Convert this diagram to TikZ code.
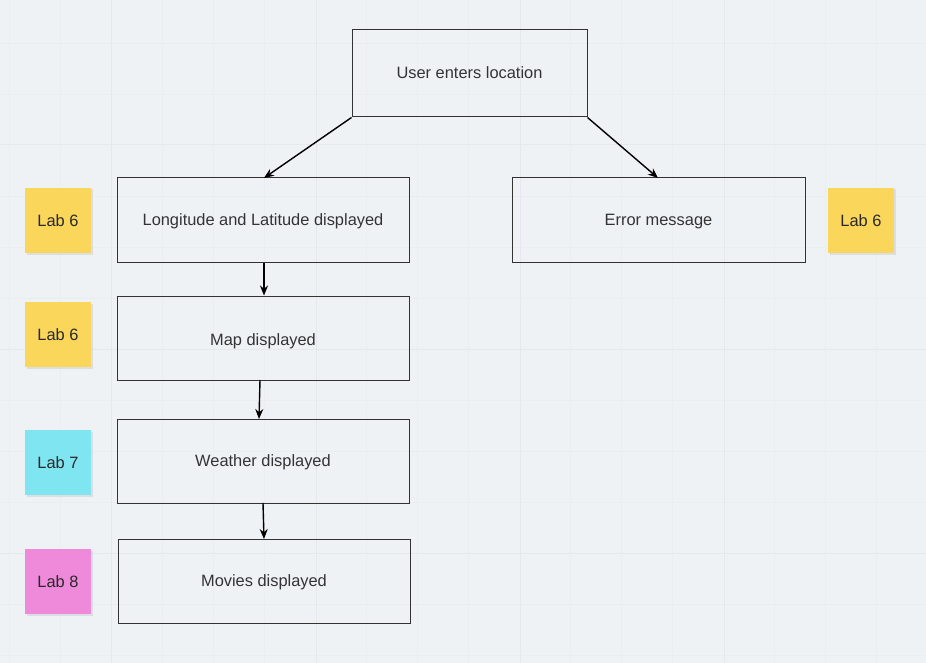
\documentclass[tikz,border=0pt]{standalone}
\usepackage{fontspec}
\setmainfont{Liberation Sans}
\usetikzlibrary{arrows.meta}
\definecolor{canvas}{HTML}{EFF2F5}
\definecolor{gridminor}{HTML}{EBEEF1}
\definecolor{gridmajor}{HTML}{E5E8EC}
\definecolor{boxline}{HTML}{333333}
\definecolor{txt}{HTML}{333333}
\definecolor{noteyellow}{HTML}{FAD75B}
\definecolor{notecyan}{HTML}{7FE6F1}
\definecolor{notepink}{HTML}{EF8ADA}
\tikzset{
  x=1pt, y=-1pt,
  flowbox/.style={draw=boxline, line width=1pt, fill=none, inner sep=0pt,
    font=\fontsize{16.4}{19}\selectfont, text=txt, text height=11pt, text depth=0pt},
  note/.style={fill=#1, minimum width=66pt, minimum height=65pt, inner sep=0pt,
    font=\fontsize{16.4}{19}\selectfont, text=txt!80!black,
    text height=11pt, text depth=0pt,
    preaction={fill=black, opacity=0.08, transform canvas={xshift=1.5pt, yshift=-1.5pt}}},
  flow/.style={draw=black, line width=1.4pt, -{Stealth[length=10pt, width=8pt]}},
}
\begin{document}
\begin{tikzpicture}
  % canvas and grid
  \fill[canvas] (0,0) rectangle (926,663);
  \useasboundingbox (0,0) rectangle (926,663);
  \foreach \gx in {9,60,162,213,264,366,417,468,570,621,672,774,825,876} {
    \draw[gridminor, line width=0.8pt] (\gx,0) -- (\gx,663);
  }
  \foreach \gy in {43,94,196,247,298,400,451,502,604,655} {
    \draw[gridminor, line width=0.8pt] (0,\gy) -- (926,\gy);
  }
  \foreach \gx in {111,316,520,724} {
    \draw[gridmajor, line width=1pt] (\gx,0) -- (\gx,663);
  }
  \foreach \gy in {145,349,553} {
    \draw[gridmajor, line width=1pt] (0,\gy) -- (926,\gy);
  }

  % flow boxes
  \node[flowbox, minimum width=235pt, minimum height=87pt] (user) at (469.5,73.5) {User enters location};
  \node[flowbox, minimum width=292pt, minimum height=84pt] (lonlat) at (263,220) {Longitude and Latitude displayed};
  \node[flowbox, minimum width=293pt, minimum height=84pt] (err) at (658.5,220) {Error message};
  \node[flowbox, minimum width=292pt, minimum height=84pt] (map) at (263,338) {};
  \node[flowbox, draw=none] (maplbl) at (263,339.5) {Map displayed};
  \node[flowbox, minimum width=292pt, minimum height=84pt] (weather) at (263,461) {Weather displayed};
  \node[flowbox, minimum width=292pt, minimum height=84pt] (movies) at (264,581) {Movies displayed};

  % sticky notes
  \node[note=noteyellow] (n1) at (58,220.5) {Lab 6};
  \node[note=noteyellow] (n2) at (58,334.5) {Lab 6};
  \node[note=notecyan] (n3) at (58,462.5) {Lab 7};
  \node[note=notepink] (n4) at (58,581.5) {Lab 8};
  \node[note=noteyellow] (n5) at (861,220.5) {Lab 6};

  % connectors
  \coordinate (lonlatTop) at (264,178);
  \coordinate (errTop) at (658,178);
  \draw[flow] (user.south west) -- (lonlatTop);
  \draw[flow] (user.south east) -- (errTop);
  \draw[flow] (lonlat.south -| lonlatTop) -- (map.north -| lonlatTop);
  \coordinate (mapBot) at (260,380);
  \coordinate (weatherTop) at (259,419);
  \draw[flow] (mapBot) -- (weatherTop);
  \coordinate (weatherBot) at (263,503);
  \coordinate (moviesTop) at (264,539);
  \draw[flow] (weatherBot) -- (moviesTop);
\end{tikzpicture}
\end{document}
